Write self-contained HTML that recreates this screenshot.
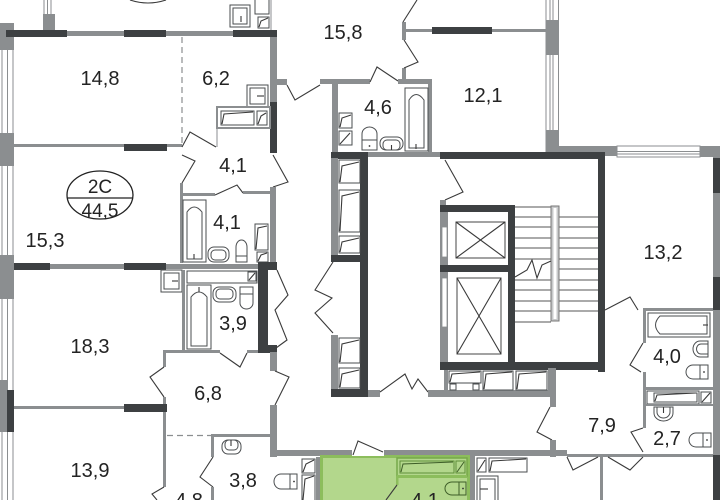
<!DOCTYPE html>
<html><head><meta charset="utf-8">
<style>
html,body{margin:0;padding:0;background:#fff;width:720px;height:500px;overflow:hidden}
svg{display:block}
.d{fill:#3d4042}
.g{fill:#8b8e90}
.fx{fill:#fff;stroke:#4a4d4f;stroke-width:1}
.ln{fill:none;stroke:#3a3a3a;stroke-width:1.1}
.wl{fill:none;stroke:#8b8e90;stroke-width:1}
text{font-family:"Liberation Sans",sans-serif;font-size:20px;fill:#232323;text-anchor:middle}
</style></head><body>
<svg width="720" height="500" viewBox="0 0 720 500" xmlns="http://www.w3.org/2000/svg">
<!-- LEFT EXTERIOR WINDOW WALL -->
<line class="wl" x1="2" y1="37" x2="2" y2="500"/>
<line class="wl" x1="7.5" y1="37" x2="7.5" y2="500"/>
<line class="wl" x1="13" y1="37" x2="13" y2="500"/>
<rect class="g" x="0" y="23" width="14" height="27"/>
<rect class="g" x="0" y="133" width="14" height="33"/>
<rect class="g" x="0" y="255" width="14" height="44"/>
<rect class="g" x="0" y="380" width="7" height="52"/>
<rect class="d" x="7" y="390" width="7" height="42"/>

<!-- ABOVE TOP WALL -->
<line class="wl" x1="44" y1="0" x2="44" y2="14"/>
<line class="wl" x1="47.5" y1="0" x2="47.5" y2="14"/>
<line class="wl" x1="51" y1="0" x2="51" y2="14"/>
<rect class="g" x="43" y="14" width="12" height="17"/>
<path class="ln" d="M130,0 Q148,6 166,0"/>
<rect class="fx" x="230" y="5" width="20" height="22"/>
<rect class="fx" x="233" y="8" width="14" height="16"/>
<line class="ln" x1="241" y1="16" x2="241" y2="22"/>
<rect class="fx" x="255" y="-1" width="14" height="15"/>
<rect class="fx" x="258" y="17" width="11" height="11"/>
<path class="ln" d="M259,27 L261,21 L268,18"/>
<line class="wl" x1="271" y1="0" x2="271" y2="30"/>

<!-- TOP WALL OF LEFT APT -->
<rect class="d" x="6" y="30" width="61" height="7"/>
<rect class="g" x="67" y="31" width="57" height="5"/>
<rect class="d" x="124" y="30" width="42" height="7"/>
<rect class="g" x="166" y="31" width="67" height="5"/>
<rect class="d" x="233" y="30" width="44" height="7"/>

<!-- 14.8 / 6.2 -->
<rect class="g" x="14" y="144" width="168" height="3"/>
<rect class="d" x="124" y="144" width="43" height="7"/>
<line x1="182" y1="37" x2="182" y2="145" stroke="#8b8e90" stroke-width="1.2" stroke-dasharray="6,4"/>
<rect class="g" x="270" y="37" width="7" height="65"/>
<rect class="d" x="270" y="102" width="7" height="51"/>
<rect class="fx" x="247" y="85" width="21" height="22"/>
<rect class="fx" x="250" y="88" width="15" height="16"/>
<line class="ln" x1="257" y1="96" x2="264" y2="96"/>
<rect x="217" y="107" width="53" height="21" fill="none" stroke="#8b8e90" stroke-width="2"/>
<rect class="fx" x="221" y="111" width="33" height="14"/>
<path class="ln" d="M222,124 L224,114 L253,112"/>
<rect class="fx" x="257" y="111" width="10" height="14"/>
<path class="ln" d="M258,124 L261,116 L266,113"/>
<line class="wl" x1="217" y1="128" x2="217" y2="147" stroke-width="1.5"/>

<!-- HALL 4.1 -->
<path class="ln" d="M182,147 L190,132 L216,147"/>
<path class="ln" d="M182,155 L195,161 L182,183"/>
<rect class="g" x="180" y="183" width="3" height="80"/>
<rect class="g" x="180" y="193" width="35" height="3"/>
<path class="ln" d="M215,195 L237,185 L243,193"/>
<rect class="g" x="243" y="191" width="30" height="3"/>
<path class="ln" d="M273,155 L288,182 L273,187"/>
<rect class="g" x="270" y="187" width="6" height="76"/>

<!-- BATH 4.1 -->
<rect class="fx" x="183" y="200" width="23" height="62"/>
<path class="fx" d="M187,259 V212 Q194,202 202,212 V259 Z"/>
<line class="ln" x1="194" y1="254" x2="194" y2="259" stroke-width="2"/>
<rect class="fx" x="208" y="247" width="21" height="15" rx="6"/>
<rect class="fx" x="211" y="250" width="15" height="10" rx="4"/>
<path class="fx" d="M236,256 V247 A5.5,7 0 0 1 247,247 V256 Z"/>
<rect class="fx" x="236" y="256" width="11" height="6"/>
<rect class="fx" x="255" y="224" width="13" height="26"/>
<path class="ln" d="M256,249 L258,228 L267,226"/>
<rect class="fx" x="257" y="252" width="11" height="10"/>
<path class="ln" d="M258,261 L261,255 L267,253"/>

<!-- WALL Y263 -->
<rect class="d" x="14" y="263" width="36" height="7"/>
<rect class="g" x="50" y="264" width="74" height="5"/>
<rect class="d" x="124" y="263" width="42" height="7"/>
<rect class="g" x="166" y="264" width="92" height="5"/>
<rect class="d" x="258" y="262" width="19" height="8"/>
<rect class="d" x="258" y="262" width="10" height="91"/>
<rect class="d" x="258" y="345" width="19" height="8"/>
<path class="ln" d="M277,270 L288,295 L275,310 L287,340 L276,348"/>

<!-- 18.3 sink -->
<rect class="fx" x="161" y="270" width="21" height="22"/>
<rect class="fx" x="164" y="273" width="15" height="16"/>
<line class="ln" x1="172" y1="281" x2="178" y2="281"/>

<!-- BATH 3.9 -->
<rect class="g" x="182" y="270" width="3" height="83"/>
<rect class="fx" x="187" y="271" width="70" height="12"/>
<rect class="fx" x="248" y="272" width="8" height="9"/>
<path class="ln" d="M249,280 L255,273"/>
<rect class="fx" x="187" y="285" width="24" height="64"/>
<path class="fx" d="M191,346 V297 Q199,287 207,297 V346 Z"/>
<line class="ln" x1="199" y1="287" x2="199" y2="292" stroke-width="2"/>
<rect class="fx" x="213" y="287" width="23" height="15" rx="6"/>
<rect class="fx" x="216" y="289" width="17" height="10" rx="4"/>
<rect class="fx" x="240" y="287" width="13" height="7"/>
<path class="fx" d="M240,294 V303 A6.5,6 0 0 0 253,303 V294 Z"/>

<!-- HALL 6.8 -->
<rect class="g" x="163" y="350" width="57" height="3"/>
<path class="ln" d="M220,353 L240,367 L247,353"/>
<rect class="g" x="247" y="350" width="11" height="3"/>
<rect class="g" x="163" y="350" width="3" height="17"/>
<path class="ln" d="M164,367 L150,377 L164,397"/>
<rect class="g" x="163" y="397" width="3" height="90"/>
<path class="ln" d="M164,487 L152,494 L157,500"/>
<rect class="g" x="14" y="406" width="110" height="3"/>
<rect class="d" x="124" y="404" width="43" height="8"/>
<rect class="g" x="270" y="352" width="7" height="19"/>
<path class="ln" d="M275,371 L289,377 L275,405"/>
<rect class="g" x="270" y="405" width="7" height="52"/>
<line x1="167" y1="435.5" x2="212" y2="435.5" stroke="#8b8e90" stroke-width="1.2" stroke-dasharray="6,4"/>

<!-- BATH 3.8 -->
<rect class="g" x="211" y="434" width="66" height="3"/>
<rect class="g" x="211" y="434" width="3" height="23"/>
<path class="ln" d="M213,457 L200,477 L213,487"/>
<rect class="g" x="211" y="487" width="3" height="13"/>
<rect class="fx" x="222" y="440" width="19" height="14" rx="6"/>
<rect class="fx" x="225" y="440" width="13" height="10" rx="4"/>
<line class="ln" x1="231" y1="440" x2="231" y2="446" stroke-width="2"/>
<path class="fx" d="M290,474 H281 A7,7.5 0 0 0 281,489 H290 Z"/>
<rect class="fx" x="290" y="474" width="7" height="15"/>
<circle cx="294" cy="481.5" r="0.9" fill="#333"/>
<rect class="fx" x="302" y="459" width="13" height="14"/>
<path class="ln" d="M303,472 L306,464 L314,460"/>
<rect class="fx" x="302" y="475" width="13" height="26"/>
<path class="ln" d="M303,500 L305,479 L314,476"/>
<rect class="g" x="316" y="457" width="4" height="43"/>

<!-- CORRIDOR BOTTOM -->
<rect class="g" x="270" y="450" width="297" height="6"/>

<!-- GREEN -->
<rect x="320" y="455" width="150" height="45" fill="#b3d78c"/>
<rect x="320" y="455" width="150" height="3" fill="#8cbd5c"/>
<rect x="320" y="455" width="3" height="45" fill="#8cbd5c"/>
<rect x="467" y="455" width="3" height="45" fill="#8cbd5c"/>
<rect x="352" y="451" width="4" height="5" fill="#8cbd5c"/>
<rect x="380" y="451" width="4" height="5" fill="#8cbd5c"/>
<rect x="352" y="450" width="32" height="6" fill="#fff"/>
<path class="ln" d="M353,455 L358,441 L383,452"/>
<rect x="397" y="458" width="70" height="18" fill="none" stroke="#76a84a" stroke-width="1.5"/>
<rect x="400" y="461" width="54" height="12" fill="none" stroke="#5f8f3a" stroke-width="1"/>
<path d="M401,472 L403,464 L453,462" fill="none" stroke="#3e5e28" stroke-width="1"/>
<rect x="456" y="461" width="9" height="12" fill="none" stroke="#5f8f3a" stroke-width="1"/>
<path d="M457,472 L464,462" fill="none" stroke="#3e5e28" stroke-width="1"/>
<rect x="397" y="475" width="70" height="3" fill="#8cbd5c"/>
<rect x="396" y="476" width="2.5" height="9" fill="#8cbd5c"/>
<path class="ln" d="M397,485 L386,500"/>
<path d="M459,482 H452 A7,6.5 0 0 0 452,495 H459 Z" fill="none" stroke="#3e5e28"/>
<rect x="459" y="482" width="7" height="13" fill="none" stroke="#3e5e28"/>
<circle cx="463" cy="488.5" r="0.9" fill="#333"/>

<!-- RIGHT OF GREEN -->
<rect class="g" x="470" y="456" width="5" height="44"/>
<rect class="fx" x="477" y="458" width="9" height="14"/>
<path class="ln" d="M478,471 L485,460"/>
<rect class="fx" x="489" y="458" width="38" height="14"/>
<path class="ln" d="M490,471 L492,461 L526,459"/>
<rect class="fx" x="477" y="476" width="21" height="25"/>
<rect class="fx" x="480" y="479" width="15" height="22"/>
<line class="ln" x1="480" y1="489" x2="488" y2="489"/>

<!-- BOTTOM RIGHT -->
<rect class="g" x="567" y="454" width="146" height="3"/>
<path class="ln" d="M567,457 L573,470 L598,457"/>
<path class="ln" d="M608,457 L630,470 L643,457"/>
<rect class="g" x="600" y="457" width="3" height="43"/>
<rect class="g" x="550" y="368" width="6" height="39"/>
<path class="ln" d="M550,407 L537,432 L552,440"/>
<rect class="g" x="550" y="440" width="6" height="17"/>
<rect class="g" x="643" y="308" width="3" height="35"/>
<path class="ln" d="M643,343 L630,365 L641,372"/>
<rect class="g" x="643" y="372" width="3" height="56"/>
<path class="ln" d="M643,428 L631,432 L643,452"/>
<path class="ln" d="M605,310 L630,297 L638,310"/>

<!-- BATH 4.0 / 2.7 -->
<rect class="g" x="643" y="308" width="70" height="3"/>
<rect class="fx" x="648" y="313" width="62" height="24"/>
<path class="fx" d="M707,316 H660 Q651,325 660,334 H707 Z"/>
<line class="ln" x1="703" y1="325" x2="708" y2="325" stroke-width="2"/>
<path class="fx" d="M708,341 H700 A7,8 0 0 0 700,357 H708 Z"/>
<path class="fx" d="M708,344 H701 A4.5,5 0 0 0 701,354 H708 Z"/>
<path class="fx" d="M700,365 H693 A7,7 0 0 0 693,379 H700 Z"/>
<rect class="fx" x="700" y="365" width="8" height="14"/>
<circle cx="704" cy="372" r="0.9" fill="#333"/>
<rect class="g" x="643" y="387" width="70" height="3"/>
<rect class="fx" x="647" y="391" width="52" height="13"/>
<rect class="fx" x="654" y="393" width="43" height="9"/>
<path class="ln" d="M655,401 L657,395 L696,393"/>
<rect class="fx" x="701" y="392" width="10" height="11"/>
<path class="ln" d="M702,402 L710,393"/>
<rect class="g" x="643" y="404" width="70" height="2"/>
<path class="fx" d="M654,407 H673 V413 A9.5,8 0 0 1 654,413 Z"/>
<path class="fx" d="M657,407 H670 V412 A6.5,6 0 0 1 657,412 Z"/>
<line class="ln" x1="663.5" y1="407" x2="663.5" y2="413" stroke-width="2"/>
<path class="fx" d="M703,433 H696 A7,7 0 0 0 696,447 H703 Z"/>
<rect class="fx" x="703" y="433" width="8" height="14"/>
<circle cx="707" cy="440" r="0.9" fill="#333"/>

<!-- RIGHT EXTERIOR -->
<rect class="g" x="713" y="146" width="7" height="354"/>
<rect class="d" x="713" y="158" width="7" height="35"/>
<rect class="d" x="713" y="277" width="7" height="33"/>
<rect class="d" x="713" y="455" width="7" height="45"/>

<!-- UPPER RIGHT -->
<rect class="g" x="559" y="146" width="58" height="10"/>
<rect x="617" y="146" width="83" height="11" fill="#fff" stroke="#8b8e90" stroke-width="1"/>
<line class="wl" x1="617" y1="151.5" x2="700" y2="151.5"/>
<line class="wl" x1="617" y1="154" x2="700" y2="154"/>
<rect class="g" x="700" y="146" width="20" height="11"/>
<line class="wl" x1="546" y1="0" x2="546" y2="152"/>
<line class="wl" x1="550" y1="0" x2="550" y2="152"/>
<line class="wl" x1="553" y1="0" x2="553" y2="152"/>
<line class="wl" x1="558.5" y1="0" x2="558.5" y2="152"/>
<rect class="g" x="546" y="20" width="13" height="35"/>
<rect class="g" x="546" y="130" width="13" height="26"/>

<!-- 12.1 / 15.8 -->
<rect class="g" x="403" y="29" width="143" height="3"/>
<rect class="d" x="432" y="27" width="60" height="7"/>
<rect class="g" x="402" y="22" width="4" height="18"/>
<rect class="g" x="402" y="68" width="4" height="13"/>
<path class="ln" d="M417,0 L403,22"/>
<path class="ln" d="M404,40 L418,62 L404,68"/>
<rect class="g" x="277" y="79" width="10" height="6"/>
<path class="ln" d="M287,85 L295,100 L320,85"/>
<rect class="g" x="320" y="79" width="50" height="5"/>
<path class="ln" d="M370,82 L377,67 L398,81"/>
<rect class="g" x="398" y="79" width="34" height="5"/>
<rect class="g" x="332" y="80" width="6" height="75"/>
<rect class="g" x="428" y="80" width="4" height="73"/>

<!-- BATH 4.6 -->
<rect class="fx" x="339" y="113" width="13" height="15"/>
<path class="ln" d="M340,127 L342,118 L351,115"/>
<rect class="fx" x="339" y="131" width="13" height="14"/>
<path class="ln" d="M340,144 L350,133"/>
<path class="fx" d="M362,140 V134 A7.5,7 0 0 1 377,134 V140 Z"/>
<rect class="fx" x="362" y="140" width="15" height="10"/>
<circle cx="369.5" cy="146" r="0.9" fill="#333"/>
<rect class="fx" x="380" y="137" width="23" height="13" rx="6"/>
<rect class="fx" x="383" y="140" width="17" height="10" rx="4"/>
<line class="ln" x1="391.5" y1="145" x2="391.5" y2="150" stroke-width="2"/>
<rect class="fx" x="405" y="88" width="23" height="63"/>
<path class="fx" d="M409,148 V100 Q416,89 424,100 V148 Z"/>
<line class="ln" x1="416" y1="144" x2="416" y2="149" stroke-width="2"/>

<!-- CORRIDOR TOP -->
<rect class="d" x="331" y="152" width="37" height="7"/>
<rect class="g" x="368" y="152" width="72" height="5"/>
<rect class="d" x="440" y="152" width="165" height="7"/>
<rect class="d" x="598" y="152" width="7" height="220"/>
<rect class="d" x="360" y="152" width="8" height="245"/>
<rect class="g" x="331" y="158" width="7" height="97"/>
<rect class="d" x="331" y="255" width="37" height="7"/>
<path class="ln" d="M333,262 L315,290 L332,298 L315,313 L333,333"/>
<rect class="g" x="331" y="335" width="7" height="55"/>
<rect class="d" x="331" y="389" width="37" height="8"/>

<!-- SHAFTS LEFT -->
<rect class="fx" x="339" y="160" width="21" height="23"/>
<path class="ln" d="M340,182 L342,166 L359,162"/>
<rect class="fx" x="339" y="190" width="21" height="42"/>
<path class="ln" d="M340,231 L342,196 L359,192"/>
<rect class="fx" x="339" y="236" width="21" height="17"/>
<path class="ln" d="M340,252 L342,242 L359,238"/>
<rect class="fx" x="339" y="338" width="21" height="25"/>
<path class="ln" d="M340,362 L342,344 L359,340"/>
<rect class="fx" x="339" y="368" width="21" height="20"/>
<path class="ln" d="M340,387 L342,374 L359,370"/>

<!-- CORRIDOR BOTTOM DOOR -->
<rect class="g" x="368" y="390" width="12" height="7"/>
<path class="ln" d="M380,392 L405,374 L412,389 L418,379 L428,392"/>
<rect class="g" x="428" y="390" width="127" height="7"/>

<!-- STAIR / ELEVATOR BLOCK -->
<path class="ln" d="M445,160 L463,192 L445,200"/>
<rect class="g" x="440" y="200" width="6" height="6"/>
<rect class="d" x="440" y="205" width="75" height="7"/>
<rect class="g" x="440" y="212" width="8" height="153"/>
<rect x="442" y="227" width="5" height="30" fill="#fff" stroke="#8b8e90" stroke-width="0.8"/>
<rect x="442" y="278" width="5" height="49" fill="#fff" stroke="#8b8e90" stroke-width="0.8"/>
<rect class="d" x="440" y="265" width="75" height="7"/>
<rect class="d" x="508" y="205" width="7" height="165"/>
<rect class="d" x="440" y="362" width="165" height="8"/>
<rect x="456" y="222" width="49" height="36" fill="none" stroke="#444" stroke-width="1"/>
<path class="ln" d="M456,222 L505,258 M505,222 L456,258" stroke-width="0.8"/>
<rect x="457" y="278" width="44" height="76" fill="none" stroke="#444" stroke-width="1"/>
<path class="ln" d="M457,278 L501,354 M501,278 L457,354" stroke-width="0.8"/>
<g stroke="#555" stroke-width="1">
<line x1="515" y1="207" x2="551" y2="207"/>
<line x1="515" y1="217" x2="551" y2="217"/>
<line x1="515" y1="227" x2="551" y2="227"/>
<line x1="515" y1="238" x2="551" y2="238"/>
<line x1="515" y1="248" x2="551" y2="248"/>
<line x1="515" y1="259" x2="551" y2="259"/>
<line x1="515" y1="280" x2="551" y2="280"/>
<line x1="515" y1="290" x2="551" y2="290"/>
<line x1="515" y1="301" x2="551" y2="301"/>
<line x1="515" y1="311" x2="551" y2="311"/>
<line x1="515" y1="322" x2="551" y2="322"/>
<line x1="559" y1="217" x2="598" y2="217"/>
<line x1="559" y1="227" x2="598" y2="227"/>
<line x1="559" y1="238" x2="598" y2="238"/>
<line x1="559" y1="248" x2="598" y2="248"/>
<line x1="559" y1="259" x2="598" y2="259"/>
<line x1="559" y1="269" x2="598" y2="269"/>
<line x1="559" y1="280" x2="598" y2="280"/>
<line x1="559" y1="290" x2="598" y2="290"/>
<line x1="559" y1="301" x2="598" y2="301"/>
<line x1="559" y1="311" x2="598" y2="311"/>
</g>
<rect x="551" y="206" width="8" height="115" fill="#c8cacb" stroke="#777" stroke-width="1"/>
<rect x="553.5" y="208" width="3" height="111" fill="#fff"/>
<path class="ln" d="M515,277 L527,270 L532,260 L537,278 L542,265 L551,261"/>

<!-- SHAFTS BELOW STAIR -->
<rect class="g" x="444" y="370" width="4" height="27"/>
<rect class="fx" x="449" y="371" width="32" height="12"/>
<path class="ln" d="M450,382 L452,374 L480,372"/>
<rect class="fx" x="450" y="384" width="6" height="6"/>
<rect class="fx" x="473" y="384" width="6" height="6"/>
<rect class="fx" x="483" y="371" width="30" height="19"/>
<path class="ln" d="M484,389 L486,374 L512,372"/>
<rect class="fx" x="516" y="371" width="31" height="19"/>
<path class="ln" d="M517,389 L519,374 L546,372"/>
<rect class="g" x="548" y="368" width="8" height="29"/>

<!-- 2C BADGE -->
<ellipse cx="100" cy="195" rx="33" ry="24" fill="#fff" stroke="#222" stroke-width="1.3"/>
<line x1="67" y1="198" x2="133" y2="198" stroke="#222" stroke-width="1.2"/>
<text x="100" y="193" style="font-size:19px">2C</text>
<text x="100" y="217" style="font-size:19px">44,5</text>

<!-- LABELS -->
<text x="100" y="85">14,8</text>
<text x="216" y="85">6,2</text>
<text x="233" y="172">4,1</text>
<text x="227" y="229">4,1</text>
<text x="45" y="247">15,3</text>
<text x="343" y="39">15,8</text>
<text x="483" y="102">12,1</text>
<text x="378" y="114">4,6</text>
<text x="663" y="259">13,2</text>
<text x="667" y="363">4,0</text>
<text x="602" y="432">7,9</text>
<text x="667" y="445">2,7</text>
<text x="90" y="353">18,3</text>
<text x="233" y="330">3,9</text>
<text x="208" y="400">6,8</text>
<text x="90" y="477">13,9</text>
<text x="243" y="487">3,8</text>
<text x="189" y="507">4,8</text>
<text x="425" y="507">4,1</text>
</svg>
</body></html>
